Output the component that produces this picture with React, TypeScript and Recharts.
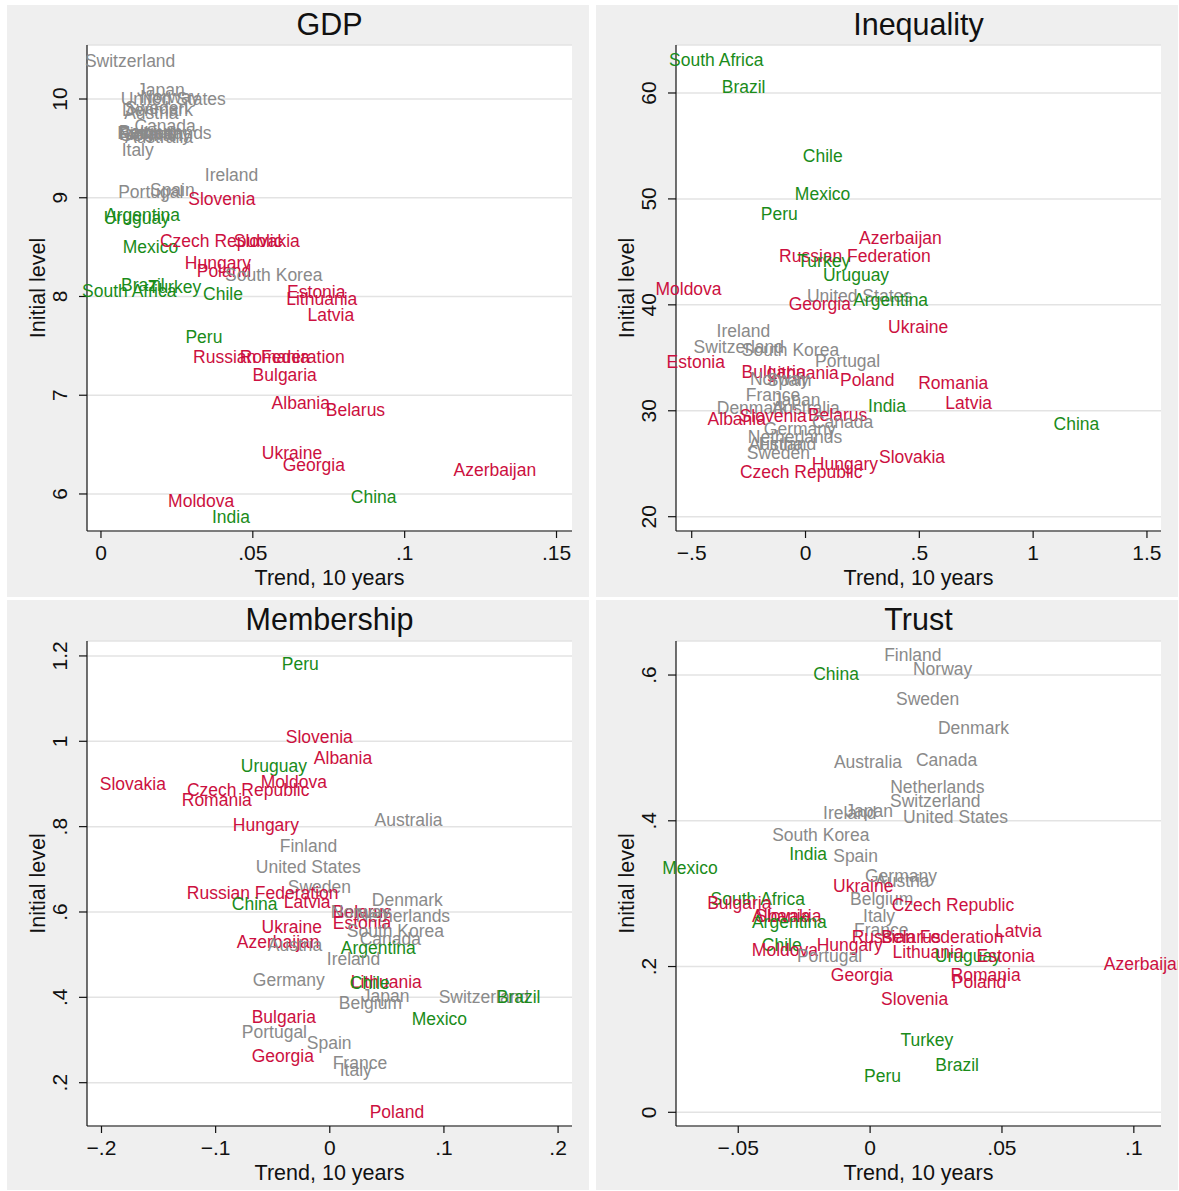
import { ScatterChart, Scatter, XAxis, YAxis, CartesianGrid } from "recharts";

type Pt = [string, number, number];

// country groups (label colour)
const WESTERN = [
  "Australia", "Austria", "Belgium", "Canada", "Denmark", "Finland", "France", "Germany", "Ireland",
  "Italy", "Japan", "Netherlands", "Norway", "Portugal", "South Korea", "Spain", "Sweden",
  "Switzerland", "United States",
];
const POST_COMMUNIST = [
  "Albania", "Azerbaijan", "Belarus", "Bulgaria", "Czech Republic", "Estonia", "Georgia", "Hungary",
  "Latvia", "Lithuania", "Moldova", "Poland", "Romania", "Russian Federation", "Slovakia",
  "Slovenia", "Ukraine",
];

// [country, trend over 10 years, initial level]
const GDP_POINTS: Pt[] = [
  ["Switzerland", 0.0096, 10.375], ["Japan", 0.0197, 10.081], ["United States", 0.0238, 9.99],
  ["Norway", 0.0227, 10.01], ["Denmark", 0.0186, 9.878], ["Sweden", 0.0183, 9.899],
  ["Austria", 0.0166, 9.848], ["Canada", 0.0211, 9.716], ["Netherlands", 0.0209, 9.65],
  ["Belgium", 0.0163, 9.66], ["Finland", 0.0154, 9.64], ["France", 0.0148, 9.65],
  ["Germany", 0.0178, 9.63], ["Australia", 0.0191, 9.608], ["Italy", 0.0121, 9.473],
  ["Ireland", 0.043, 9.22], ["Portugal", 0.0164, 9.048], ["Spain", 0.0235, 9.068],
  ["Slovenia", 0.0398, 8.977], ["Argentina", 0.0137, 8.815], ["Uruguay", 0.0118, 8.785],
  ["Mexico", 0.0163, 8.491], ["Czech Republic", 0.0396, 8.552], ["Slovakia", 0.0546, 8.552],
  ["Hungary", 0.0385, 8.329], ["Poland", 0.0405, 8.248], ["South Korea", 0.0569, 8.208],
  ["Brazil", 0.0138, 8.106], ["Turkey", 0.0243, 8.086], ["South Africa", 0.0093, 8.046],
  ["Chile", 0.0402, 8.015], ["Estonia", 0.0709, 8.035], ["Lithuania", 0.0727, 7.965],
  ["Latvia", 0.0757, 7.803], ["Peru", 0.0339, 7.58], ["Russian Federation", 0.0553, 7.377],
  ["Romania", 0.0572, 7.377], ["Bulgaria", 0.0605, 7.195], ["Albania", 0.0658, 6.911],
  ["Belarus", 0.0838, 6.84], ["Ukraine", 0.0629, 6.405], ["Georgia", 0.0701, 6.284],
  ["Azerbaijan", 0.1297, 6.233], ["Moldova", 0.033, 5.919], ["China", 0.0898, 5.96],
  ["India", 0.0428, 5.757],
];

const INEQUALITY_POINTS: Pt[] = [
  ["South Africa", -0.392, 63.02], ["Brazil", -0.272, 60.47], ["Chile", 0.076, 53.96],
  ["Mexico", 0.075, 50.37], ["Peru", -0.115, 48.48], ["Azerbaijan", 0.417, 46.22],
  ["Russian Federation", 0.217, 44.52], ["Turkey", 0.08, 44.05], ["Uruguay", 0.222, 42.72],
  ["Moldova", -0.514, 41.4], ["United States", 0.237, 40.74], ["Argentina", 0.374, 40.36],
  ["Georgia", 0.063, 39.99], ["Ukraine", 0.495, 37.81], ["Ireland", -0.273, 37.44],
  ["Switzerland", -0.293, 35.93], ["South Korea", -0.066, 35.64], ["Portugal", 0.185, 34.6],
  ["Estonia", -0.482, 34.51], ["Bulgaria", -0.14, 33.57], ["Lithuania", -0.01, 33.47],
  ["Norway", -0.114, 32.91], ["Spain", -0.072, 32.81], ["Poland", 0.271, 32.81],
  ["Romania", 0.649, 32.53], ["France", -0.143, 31.4], ["Japan", -0.039, 30.92],
  ["Latvia", 0.717, 30.64], ["Denmark", -0.234, 30.17], ["Australia", 0.001, 30.17],
  ["India", 0.358, 30.36], ["Slovenia", -0.142, 29.42], ["Albania", -0.302, 29.13],
  ["Belarus", 0.141, 29.51], ["Canada", 0.163, 28.85], ["China", 1.19, 28.66],
  ["Germany", -0.025, 28.19], ["Netherlands", -0.046, 27.43], ["Austria", -0.13, 26.77],
  ["Finland", -0.079, 26.77], ["Sweden", -0.119, 25.92], ["Hungary", 0.173, 24.88],
  ["Slovakia", 0.468, 25.54], ["Czech Republic", -0.019, 24.13],
];

const MEMBERSHIP_POINTS: Pt[] = [
  ["Peru", -0.0258, 1.179], ["Slovenia", -0.0092, 1.009], ["Albania", 0.0116, 0.958],
  ["Uruguay", -0.049, 0.941], ["Slovakia", -0.1725, 0.899], ["Czech Republic", -0.0715, 0.885],
  ["Moldova", -0.0315, 0.904], ["Romania", -0.099, 0.861], ["Hungary", -0.056, 0.802],
  ["Australia", 0.069, 0.814], ["Finland", -0.0187, 0.753], ["United States", -0.0188, 0.704],
  ["Sweden", -0.0091, 0.656], ["Russian Federation", -0.0588, 0.642], ["China", -0.0658, 0.616],
  ["Latvia", -0.0198, 0.621], ["Denmark", 0.0679, 0.626], ["Belarus", 0.0286, 0.598],
  ["Norway", 0.0269, 0.598], ["Netherlands", 0.0641, 0.588], ["Estonia", 0.0282, 0.572],
  ["Ukraine", -0.0333, 0.562], ["South Korea", 0.0575, 0.553], ["Canada", 0.0531, 0.534],
  ["Azerbaijan", -0.0452, 0.529], ["Austria", -0.0305, 0.52], ["Argentina", 0.0425, 0.515],
  ["Ireland", 0.0208, 0.487], ["Germany", -0.0359, 0.44], ["Lithuania", 0.0495, 0.435],
  ["Chile", 0.035, 0.433], ["Japan", 0.0489, 0.402], ["Switzerland", 0.135, 0.4],
  ["Brazil", 0.1654, 0.4], ["Belgium", 0.0356, 0.386], ["Mexico", 0.096, 0.348],
  ["Bulgaria", -0.0403, 0.353], ["Portugal", -0.0485, 0.318], ["Spain", -0.0005, 0.292],
  ["Georgia", -0.0412, 0.261], ["France", 0.0264, 0.245], ["Italy", 0.0228, 0.228],
  ["Poland", 0.0588, 0.129],
];

const TRUST_POINTS: Pt[] = [
  ["Finland", 0.0162, 0.626], ["China", -0.0129, 0.601], ["Norway", 0.0275, 0.607],
  ["Sweden", 0.0218, 0.566], ["Denmark", 0.0392, 0.526], ["Australia", -0.0008, 0.48],
  ["Canada", 0.029, 0.483], ["Netherlands", 0.0255, 0.446], ["Switzerland", 0.0247, 0.426],
  ["Ireland", -0.0077, 0.41], ["Japan", -0.0004, 0.413], ["United States", 0.0324, 0.404],
  ["South Korea", -0.0187, 0.379], ["India", -0.0235, 0.353], ["Spain", -0.0055, 0.35],
  ["Mexico", -0.0683, 0.334], ["Germany", 0.0117, 0.3226], ["Austria", 0.0122, 0.316],
  ["Ukraine", -0.0026, 0.309], ["South Africa", -0.0426, 0.291], ["Bulgaria", -0.0496, 0.2855],
  ["Belgium", 0.0044, 0.291], ["Czech Republic", 0.0314, 0.284], ["Albania", -0.0337, 0.268],
  ["Slovakia", -0.031, 0.268], ["Argentina", -0.0306, 0.26], ["Italy", 0.0034, 0.268],
  ["France", 0.0042, 0.249], ["Russian Federation", 0.0218, 0.239], ["Belarus", 0.0155, 0.239],
  ["Latvia", 0.0562, 0.2475], ["Chile", -0.0335, 0.228], ["Moldova", -0.0323, 0.222],
  ["Hungary", -0.0077, 0.228], ["Portugal", -0.0154, 0.214], ["Lithuania", 0.022, 0.2187],
  ["Uruguay", 0.0371, 0.214], ["Estonia", 0.0514, 0.213], ["Georgia", -0.0031, 0.1867],
  ["Romania", 0.0438, 0.1867], ["Poland", 0.0413, 0.1775], ["Slovenia", 0.0169, 0.155],
  ["Azerbaijan", 0.1043, 0.203], ["Turkey", 0.0215, 0.0988], ["Brazil", 0.033, 0.0645],
  ["Peru", 0.0047, 0.0494],
];

const GDP_X_TICKS = [0, 0.05, 0.1, 0.15];
const GDP_Y_TICKS = [6, 7, 8, 9, 10];
const INEQUALITY_X_TICKS = [-0.5, 0, 0.5, 1, 1.5];
const INEQUALITY_Y_TICKS = [20, 30, 40, 50, 60];
const MEMBERSHIP_X_TICKS = [-0.2, -0.1, 0, 0.1, 0.2];
const MEMBERSHIP_Y_TICKS = [0.2, 0.4, 0.6, 0.8, 1, 1.2];
const TRUST_X_TICKS = [-0.05, 0, 0.05, 0.1];
const TRUST_Y_TICKS = [0, 0.2, 0.4, 0.6];

const INK = "#111";
const BG = "#efefef";
const GRAY = "#8a8a8a";
const RED = "#cc1040";
const GREEN = "#1a8c1a";

const PANEL_W = 582;
const PLOT_BOTTOM = 526; // plot bottom measured from panel top

function colorOf(name: string) {
  if (WESTERN.includes(name)) return GRAY;
  if (POST_COMMUNIST.includes(name)) return RED;
  return GREEN;
}

// Stata-style numbers: ".05", "−.5"
function fmt(v: number) {
  if (v === 0) return "0";
  let s = String(Math.abs(v));
  if (s.startsWith("0.")) s = s.slice(1);
  return (v < 0 ? "\u2212" : "") + s;
}

function CountryLabel(props: any) {
  const { cx, cy, payload } = props;
  return (
    <text x={cx} y={cy} dy="0.3em" textAnchor="middle" fontSize={17.5} fill={colorOf(payload.name)}>
      {payload.name}
    </text>
  );
}

function XTick({ x, y, payload }: any) {
  return (
    <text x={x} y={y} dy={19.5} textAnchor="middle" fontSize={21} fill={INK}>
      {fmt(payload.value)}
    </text>
  );
}

function YTick({ x, y, payload }: any) {
  const bx = x - 9.5;
  return (
    <text x={bx} y={y} transform={`rotate(-90, ${bx}, ${y})`} textAnchor="middle" fontSize={21} fill={INK}>
      {fmt(payload.value)}
    </text>
  );
}

const xTitle = (props: any) => {
  const { x, y, width } = props.viewBox;
  return (
    <text x={x + width / 2} y={y + 54} textAnchor="middle" fontSize={21.5} fill={INK}>
      Trend, 10 years
    </text>
  );
};

const yTitle = (props: any) => {
  const { x, y, width, height } = props.viewBox;
  const bx = x + width - 42;
  const cy = y + height / 2;
  return (
    <text x={bx} y={cy} transform={`rotate(-90, ${bx}, ${cy})`} textAnchor="middle" fontSize={21.5} fill={INK}>
      Initial level
    </text>
  );
};

interface PanelProps {
  title: string;
  points: Pt[];
  xDomain: [number, number];
  yDomain: [number, number];
  xTicks: number[];
  yTicks: number[];
  left: number;
  top: number;
  height: number;
  plotTop: number;
}

function Panel({ title, points, xDomain, yDomain, xTicks, yTicks, left, top, height, plotTop }: PanelProps) {
  const data = points.map(([name, x, y]) => ({ name, x, y }));
  return (
    <div style={{ position: "absolute", left, top, width: PANEL_W, height, background: BG }}>
      <ScatterChart width={PANEL_W} height={height} margin={{ top: plotTop, right: 17, bottom: 0, left: 0 }}>
        <CartesianGrid vertical={false} stroke="#e3e3e3" strokeWidth={1.5} fill="#fff" fillOpacity={1} />
        <XAxis
          type="number"
          dataKey="x"
          domain={xDomain}
          ticks={xTicks}
          height={height - PLOT_BOTTOM}
          tickSize={7}
          tickMargin={2}
          tick={<XTick />}
          axisLine={{ stroke: INK, strokeWidth: 1.2 }}
          tickLine={{ stroke: INK, strokeWidth: 1.2 }}
          label={xTitle}
        />
        <YAxis
          type="number"
          dataKey="y"
          domain={yDomain}
          ticks={yTicks}
          width={80}
          tickSize={8}
          tickMargin={2}
          tick={<YTick />}
          axisLine={{ stroke: INK, strokeWidth: 1.2 }}
          tickLine={{ stroke: INK, strokeWidth: 1.2 }}
          label={yTitle}
        />
        <Scatter data={data} shape={CountryLabel} isAnimationActive={false} />
      </ScatterChart>
      <div
        style={{
          position: "absolute",
          left: 80,
          width: 485,
          top: 4,
          textAlign: "center",
          fontSize: 30.5,
          lineHeight: "30px",
          color: INK,
        }}
      >
        {title}
      </div>
    </div>
  );
}

export default function App() {
  return (
    <div
      style={{
        position: "absolute",
        left: 0,
        top: 0,
        width: 1179,
        height: 1191,
        background: "#fff",
        fontFamily: "'Liberation Sans', Arial, Helvetica, sans-serif",
      }}
    >
      <Panel
        title="GDP"
        points={GDP_POINTS}
        xDomain={[-0.0046, 0.1551]}
        yDomain={[5.625, 10.547]}
        xTicks={GDP_X_TICKS}
        yTicks={GDP_Y_TICKS}
        left={7}
        top={5}
        height={592}
        plotTop={40}
      />
      <Panel
        title="Inequality"
        points={INEQUALITY_POINTS}
        xDomain={[-0.569, 1.5617]}
        yDomain={[18.65, 64.53]}
        xTicks={INEQUALITY_X_TICKS}
        yTicks={INEQUALITY_Y_TICKS}
        left={596}
        top={5}
        height={592}
        plotTop={40}
      />
      <Panel
        title="Membership"
        points={MEMBERSHIP_POINTS}
        xDomain={[-0.2127, 0.2122]}
        yDomain={[0.0985, 1.235]}
        xTicks={MEMBERSHIP_X_TICKS}
        yTicks={MEMBERSHIP_Y_TICKS}
        left={7}
        top={600}
        height={590}
        plotTop={41}
      />
      <Panel
        title="Trust"
        points={TRUST_POINTS}
        xDomain={[-0.0736, 0.1103]}
        yDomain={[-0.0188, 0.6467]}
        xTicks={TRUST_X_TICKS}
        yTicks={TRUST_Y_TICKS}
        left={596}
        top={600}
        height={590}
        plotTop={41}
      />
    </div>
  );
}
